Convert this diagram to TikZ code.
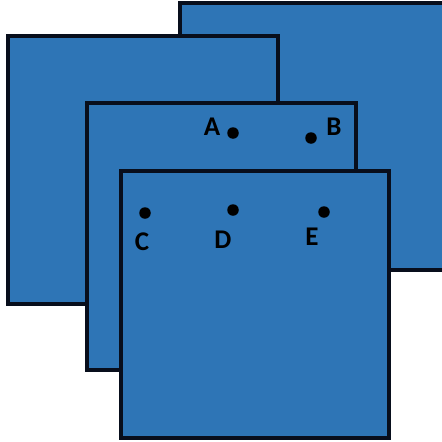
\documentclass[tikz,border=0pt]{standalone}
\usepackage{fontspec}
\setmainfont{Carlito}
\definecolor{sheet}{RGB}{46,117,182}
\definecolor{edge}{RGB}{8,14,28}
\begin{document}
\begin{tikzpicture}[x=1pt,y=-1pt,
  sheetbox/.style={fill=sheet,draw=edge,line width=3.4pt},
  pt/.style={circle,fill=black,inner sep=0pt,minimum size=11.5pt},
  lbl/.style={font=\bfseries\fontsize{27}{27}\selectfont,inner sep=0pt}]
\useasboundingbox (0,0) rectangle (442,442);
\clip (0,0) rectangle (442,442);
\draw[sheetbox] (180,3) rectangle (460,270);
\draw[sheetbox] (8,36) rectangle (278,304);
\draw[sheetbox] (87,103) rectangle (356,370);
\draw[sheetbox] (121,171) rectangle (389,438);
\node[pt] (pA) at (233,133) {};
\node[pt] (pB) at (311,138) {};
\node[pt] (pC) at (145,213) {};
\node[pt] (pD) at (233,210) {};
\node[pt] (pE) at (324,212) {};
\node[lbl] (lA) at (212,127) {A};
\node[lbl] (lB) at (334,127) {B};
\node[lbl] (lC) at (142,242) {C};
\node[lbl] (lD) at (223,240) {D};
\node[lbl] (lE) at (312,237) {E};
\end{tikzpicture}
\end{document}
